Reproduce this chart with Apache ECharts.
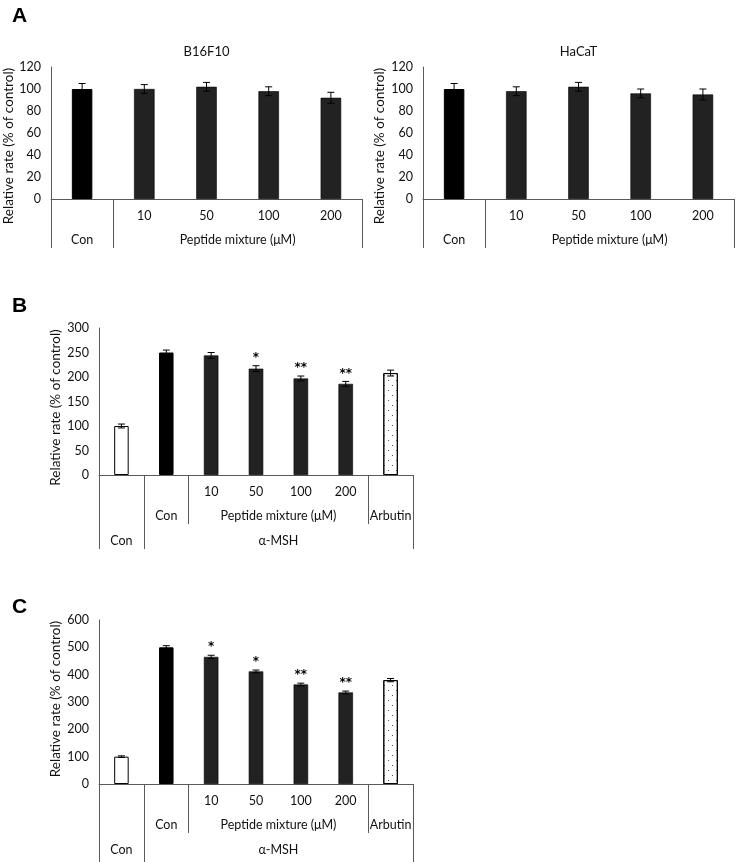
<!DOCTYPE html>
<html>
<head>
    <meta charset="utf-8">
    <title>Peptide mixture</title>
    <script src="https://cdn.jsdelivr.net/npm/echarts@6/dist/echarts.min.js"></script>
    <style>
        html, body { margin: 0; padding: 0; background: #ffffff; }
        #main { width: 737px; height: 862px; }
    </style>
</head>
<body>
<div id="main"></div>
<script>
    // ---- panel A: viability ----
    var catsA = ['', '10', '50', '100', '200'];
    var groupsA = [['Con', 0, 0], ['Peptide mixture (μM)', 1, 4]];
    var b16Mean = [100, 100, 102, 98, 92];
    var b16Err = [5, 4, 4, 4, 5];
    var hacatMean = [100, 98, 102, 96, 95];
    var hacatErr = [5, 4, 4, 4, 5];
    var ticksA = [0, 20, 40, 60, 80, 100, 120];

    // ---- panels B and C ----
    var catsBC = ['', '', '10', '50', '100', '200', ''];
    var groupsBC2 = [['Con', 1, 1], ['Peptide mixture (μM)', 2, 5], ['Arbutin', 6, 6]];
    var groupsBC3 = [['Con', 0, 0], ['α-MSH', 1, 6]];
    var melMean = [100, 250, 244, 217, 197, 186, 208];
    var melErr = [4, 5, 6, 6, 5, 5, 6];
    var melSig = ['', '', '', '*', '**', '**', ''];
    var ticksB = [0, 50, 100, 150, 200, 250, 300];
    var tyrMean = [100, 500, 465, 412, 364, 335, 380];
    var tyrErr = [3, 6, 6, 5, 5, 5, 6];
    var tyrSig = ['', '', '*', '*', '**', '**', ''];
    var ticksC = [0, 100, 200, 300, 400, 500, 600];

    var FONT = 'Lato, "Open Sans", sans-serif';
    var FS = 12.5;
    var TXT = '#111111';
    var LINE = '#595959';
    var DARK = '#222222';
    var fillA = ['#000000', DARK, DARK, DARK, DARK];
    var fillBC = ['#ffffff', '#000000', DARK, DARK, DARK, DARK, '#ffffff'];
    var dotted = {
        symbol: 'rect', symbolSize: 1, color: '#555',
        dashArrayX: [[1, 7], [0, 4, 1, 3]], dashArrayY: [1, 3.5]
    };

    var chart = echarts.init(document.getElementById('main'));

    var grids = [
        {left: 51, top: 67, width: 311, height: 132},
        {left: 423, top: 67, width: 311, height: 132},
        {left: 99, top: 328, width: 314, height: 147},
        {left: 99, top: 620, width: 314, height: 164}
    ];
    var xAxes = [], yAxes = [], series = [];

    function groupAxis(gi, n, groups, bounds, len, margin) {
        return {
            type: 'value', gridIndex: gi, position: 'bottom',
            min: -0.5, max: n - 0.5,
            splitLine: {show: false},
            axisLine: {show: false, onZero: false},
            axisTick: {show: true, customValues: bounds, length: len, lineStyle: {color: LINE, width: 1}},
            axisLabel: {
                customValues: groups.map(function (g) { return (g[1] + g[2]) / 2; }),
                formatter: function (v) {
                    for (var i = 0; i < groups.length; i++) {
                        if ((groups[i][1] + groups[i][2]) / 2 === v) return groups[i][0];
                    }
                    return '';
                },
                margin: margin, color: TXT, fontSize: FS, fontFamily: FONT
            }
        };
    }

    function panel(gi, cats, levels, mean, err, sig, fills, ticks, nameGap, nameShift) {
        var xi = xAxes.length;
        xAxes.push({
            type: 'category', gridIndex: gi, data: cats, position: 'bottom',
            axisLine: {show: true, lineStyle: {color: LINE, width: 1}},
            axisTick: {show: false},
            axisLabel: {interval: 0, margin: 10, color: TXT, fontSize: FS, fontFamily: FONT}
        });
        levels.forEach(function (lv) {
            xAxes.push(groupAxis(gi, cats.length, lv[0], lv[1], lv[2], lv[3]));
        });
        var yi = yAxes.length;
        yAxes.push({
            type: 'value', gridIndex: gi,
            min: ticks[0], max: ticks[ticks.length - 1], interval: ticks[1] - ticks[0],
            axisLine: {show: true, onZero: false, lineStyle: {color: LINE, width: 1}},
            axisTick: {show: false},
            splitLine: {show: false},
            axisLabel: {margin: 10, color: TXT, fontSize: FS, fontFamily: FONT},
            name: 'Relative rate (% of control)', nameLocation: 'middle', nameGap: nameGap,
            nameTextStyle: {
                color: TXT, fontSize: 13.5, fontFamily: FONT,
                padding: nameShift > 0 ? [0, 2 * nameShift, 0, 0] : [0, 0, 0, -2 * nameShift]
            }
        });
        series.push({
            type: 'bar', xAxisIndex: xi, yAxisIndex: yi,
            barWidth: gi < 2 ? 20.5 : 14.5,
            data: mean.map(function (v, i) {
                var st = {color: fills[i], borderColor: '#000', borderWidth: fills[i] === DARK ? 0.6 : 1};
                if (gi >= 2 && i === cats.length - 1) st.decal = dotted;
                return {value: v, itemStyle: st};
            })
        });
        series.push({
            type: 'custom', xAxisIndex: xi, yAxisIndex: yi, z: 5,
            encode: {x: 0, y: 1},
            data: mean.map(function (v, i) { return [i, v, err[i]]; }),
            renderItem: function (params, api) {
                var x = api.value(0), m = api.value(1), e = api.value(2);
                var top = api.coord([x, m + e]);
                var bot = api.coord([x, m - e]);
                var hw = 3.5;
                var ls = {stroke: '#000', lineWidth: 1};
                var kids = [
                    {type: 'line', shape: {x1: top[0], y1: top[1], x2: bot[0], y2: bot[1]}, style: ls},
                    {type: 'line', shape: {x1: top[0] - hw, y1: top[1], x2: top[0] + hw, y2: top[1]}, style: ls},
                    {type: 'line', shape: {x1: bot[0] - hw, y1: bot[1], x2: bot[0] + hw, y2: bot[1]}, style: ls}
                ];
                var s = sig ? sig[params.dataIndex] : '';
                if (s) {
                    kids.push({
                        type: 'text', x: top[0], y: top[1] - 8,
                        style: {text: s, fill: '#000', font: 'bold 12px "DejaVu Sans", sans-serif', textAlign: 'center', textVerticalAlign: 'middle'}
                    });
                }
                return {type: 'group', children: kids};
            }
        });
    }

    panel(0, catsA, [[groupsA, [-0.5, 0.5, 4.5], 49, 34]], b16Mean, b16Err, null, fillA, ticksA, 23, 13);
    panel(1, catsA, [[groupsA, [-0.5, 0.5, 4.5], 49, 34]], hacatMean, hacatErr, null, fillA, ticksA, 36, 13);
    panel(2, catsBC, [[groupsBC2, [1.5, 5.5], 49, 34], [groupsBC3, [-0.5, 0.5, 6.5], 74, 59]],
        melMean, melErr, melSig, fillBC, ticksB, 36, 6);
    panel(3, catsBC, [[groupsBC2, [1.5, 5.5], 49, 34], [groupsBC3, [-0.5, 0.5, 6.5], 78, 59]],
        tyrMean, tyrErr, tyrSig, fillBC, ticksC, 36, -3);

    function letter(t, x, y) {
        return {type: 'text', left: x, top: y, style: {text: t, fill: '#000', font: 'bold 21px "Liberation Sans", Arial, sans-serif'}};
    }
    function caption(t, x, y) {
        return {type: 'text', x: x, y: y, style: {text: t, fill: TXT, font: '13px ' + FONT, textAlign: 'center', textVerticalAlign: 'middle'}};
    }

    chart.setOption({
        animation: false,
        grid: grids,
        xAxis: xAxes,
        yAxis: yAxes,
        series: series,
        graphic: [
            letter('A', 12, 6), letter('B', 12, 296), letter('C', 12, 597),
            caption('B16F10', 206.5, 52), caption('HaCaT', 578.5, 52)
        ]
    });

    window.onresize = function () {
        chart.resize();
    };
</script>
</body>
</html>
